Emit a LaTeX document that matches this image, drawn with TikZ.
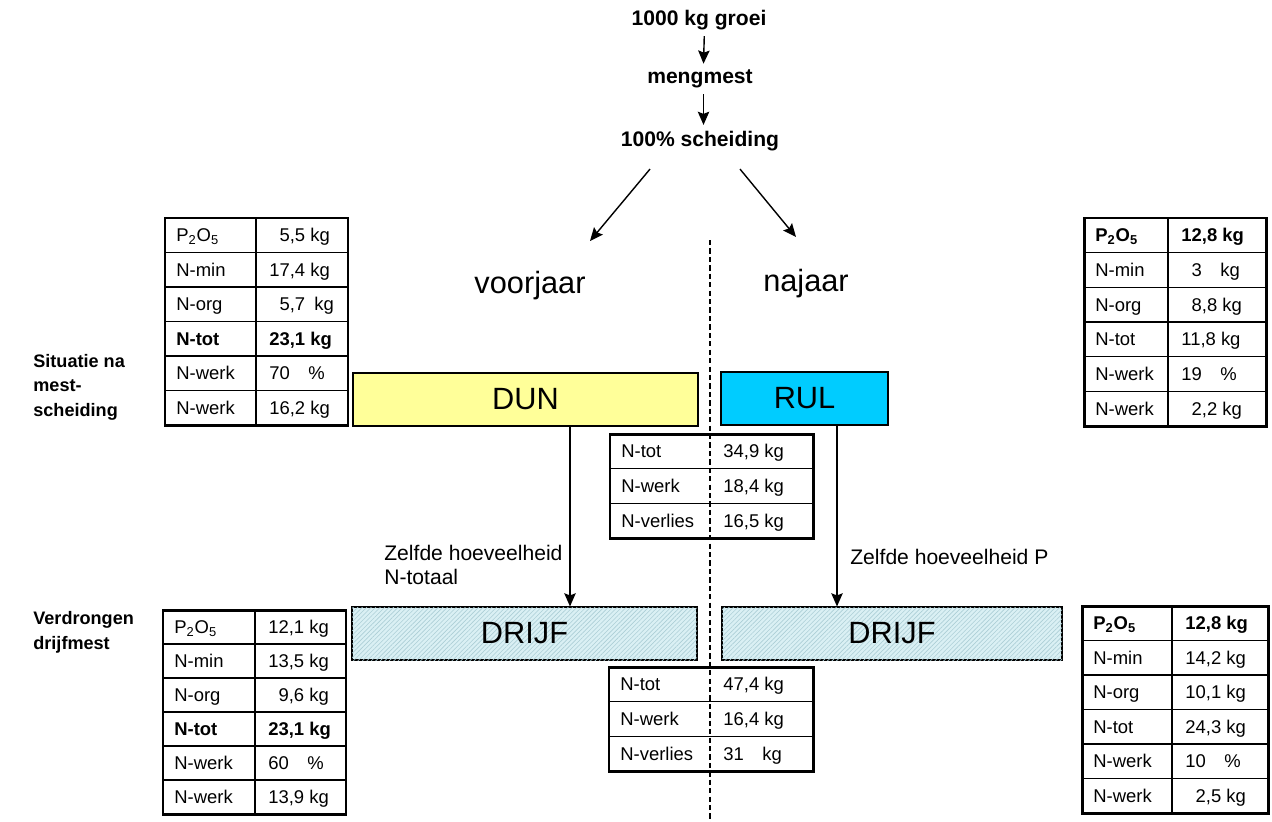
\documentclass[tikz,border=0pt]{standalone}
\usepackage{fontspec}
\setmainfont{Liberation Sans}
\usetikzlibrary{arrows.meta,patterns.meta}

\newdimen\pxu \pxu=0.02cm
\definecolor{dunyellow}{RGB}{255,255,153}
\definecolor{rulcyan}{RGB}{0,204,255}
\definecolor{drijfblue}{RGB}{218,240,244}
\definecolor{drijfhatch}{RGB}{172,206,214}

\tikzset{
  cell/.style={inner sep=0pt, text height=7.5pt, text depth=0pt,
    font=\fontsize{10.5}{12}\selectfont},
  nb/.style={},
  hl/.style={font=\fontsize{10.5}{12}\selectfont\bfseries},
  cellrule/.style={line width=0.6pt},
  tableframe/.style={line width=1.7pt},
  box/.style={draw, line width=0.6pt, inner sep=0pt,
    font=\fontsize{17.5}{20}\selectfont},
  drijfbox/.style={box, fill=drijfblue,
    postaction={pattern={Lines[angle=45,distance=1.8pt,line width=0.35pt]},
      pattern color=drijfhatch}},
  big/.style={font=\fontsize{17.5}{20}\selectfont},
  steplabel/.style={font=\fontsize{12}{14}\selectfont\bfseries},
  sidelabel/.style={font=\fontsize{10.3}{13.9}\selectfont\bfseries, align=left,
    anchor=west, inner sep=0pt},
  note/.style={font=\fontsize{12}{13.6}\selectfont, align=left, anchor=west,
    inner sep=0pt},
  arr/.style={line width=0.8pt, -{Stealth[length=7.5pt,width=6.5pt,inset=1.2pt]}},
  sepline/.style={line width=0.8pt, dash pattern=on 3pt off 1.8pt}
}

% table: name, left, divider, right, top, bottom, rows, divider style, row list
\newcommand{\nutable}[9]{%
  \foreach [count=\i] \lab/\val/\sty in {#9} {
    \draw[cellrule] (#2,{#5+(\i-1)*(#6-#5)/#7}) -- (#4,{#5+(\i-1)*(#6-#5)/#7});
    \node[cell,\sty,anchor=west] (#1-\i-a) at (#2+11,{#5+(\i-0.5)*(#6-#5)/#7}) {\lab};
    \node[cell,\sty,anchor=west] (#1-\i-b) at (#3+13,{#5+(\i-0.5)*(#6-#5)/#7}) {\val};
  }
  \draw[cellrule,#8] (#3,#5) -- (#3,#6);
  \draw[tableframe] (#2,#5) rectangle (#4,#6);
}

\begin{document}
\begin{tikzpicture}[x=0.02cm, y=-0.02cm]
  \useasboundingbox (0,0) rectangle (1272,822);

  % separation line voorjaar / najaar
  \coordinate (septop) at (710,240);
  \coordinate (sepbot) at (710,822);
  \draw[sepline] (septop) -- (sepbot);

  % top chain
  \node[steplabel] (groei) at (699,20) {1000 kg groei};
  \node[steplabel] (meng) at (700,79) {mengmest};
  \node[steplabel] (scheid) at (700,141) {100\% scheiding};
  \draw[arr] ([xshift=3pt]groei.south) -- ([xshift=2pt]meng.north);
  \draw[arr] ([xshift=2pt]meng.south) -- ([xshift=2pt]scheid.north);

  \coordinate (voortip) at (590,241);
  \coordinate (najtip) at (796,237);
  \draw[arr] ([shift={(-50,12)}]scheid.south) -- (voortip);
  \draw[arr] ([shift={(40,12)}]scheid.south) -- (najtip);

  \node[big] (voor) at (530,286) {voorjaar};
  \node[big] (naj) at (806,284) {najaar};

  % boxes
  \node[box, fill=dunyellow, minimum width=345*\pxu, minimum height=53*\pxu]
    (dun) at (525.5,399.5) {DUN};
  \node[box, fill=rulcyan, minimum width=167*\pxu, minimum height=53*\pxu]
    (rul) at (804.5,398.5) {RUL};
  \node[drijfbox, minimum width=345*\pxu, minimum height=53*\pxu]
    (drijfL) at (524.5,633.5) {DRIJF};
  \node[drijfbox, minimum width=340*\pxu, minimum height=53*\pxu]
    (drijfR) at (892,633.5) {DRIJF};

  \coordinate (colL) at (570,0);
  \coordinate (colR) at (837,0);
  \draw[arr] (colL |- dun.south) -- (colL |- drijfL.north);
  \draw[arr] (colR |- rul.south) -- (colR |- drijfR.north);

  \node[note] (zelfL) at (384,565) {Zelfde hoeveelheid\\N-totaal};
  \node[note] (zelfR) at (850,557) {Zelfde hoeveelheid P};

  \node[sidelabel] (situatie) at (33,387) {Situatie na\\mest-\\scheiding};
  \node[sidelabel] (verdrongen) at (33,632.5) {Verdrongen\\drijfmest};

  % tables
  \nutable{tul}{165}{256}{348}{218}{425}{6}{}{%
    P\textsubscript{2}O\textsubscript{5}/{\phantom{1}5,5 kg}/nb,
    N-min/{17,4 kg}/nb,
    N-org/{\phantom{1}5,7\hspace{0.5em}kg}/nb,
    N-tot/{23,1 kg}/hl,
    N-werk/{70\hspace{1em}\%}/nb,
    N-werk/{16,2 kg}/nb}
  \nutable{tur}{1084}{1168}{1266}{218}{426}{6}{}{%
    P\textsubscript{2}O\textsubscript{5}/{12,8 kg}/hl,
    N-min/{\phantom{1}3\hspace{1em}kg}/nb,
    N-org/{\phantom{1}8,8 kg}/nb,
    N-tot/{11,8 kg}/nb,
    N-werk/{19\hspace{1em}\%}/nb,
    N-werk/{\phantom{1}2,2 kg}/nb}
  \nutable{tmu}{610}{710}{813}{434}{538}{3}{draw=none}{%
    N-tot/{34,9 kg}/nb,
    N-werk/{18,4 kg}/nb,
    N-verlies/{16,5 kg}/nb}
  \nutable{tll}{163}{255}{346}{610}{814}{6}{}{%
    P\textsubscript{2}O\textsubscript{5}/{12,1 kg}/nb,
    N-min/{13,5 kg}/nb,
    N-org/{\phantom{1}9,6 kg}/nb,
    N-tot/{23,1 kg}/hl,
    N-werk/{60\hspace{1em}\%}/nb,
    N-werk/{13,9 kg}/nb}
  \nutable{tlr}{1082}{1172}{1268}{606}{813}{6}{}{%
    P\textsubscript{2}O\textsubscript{5}/{12,8 kg}/hl,
    N-min/{14,2 kg}/nb,
    N-org/{10,1 kg}/nb,
    N-tot/{24,3 kg}/nb,
    N-werk/{10\hspace{1em}\%}/nb,
    N-werk/{\phantom{1}2,5 kg}/nb}
  \nutable{tml}{609}{710}{813}{667}{771}{3}{draw=none}{%
    N-tot/{47,4 kg}/nb,
    N-werk/{16,4 kg}/nb,
    N-verlies/{31\hspace{1em}kg}/nb}
\end{tikzpicture}
\end{document}
